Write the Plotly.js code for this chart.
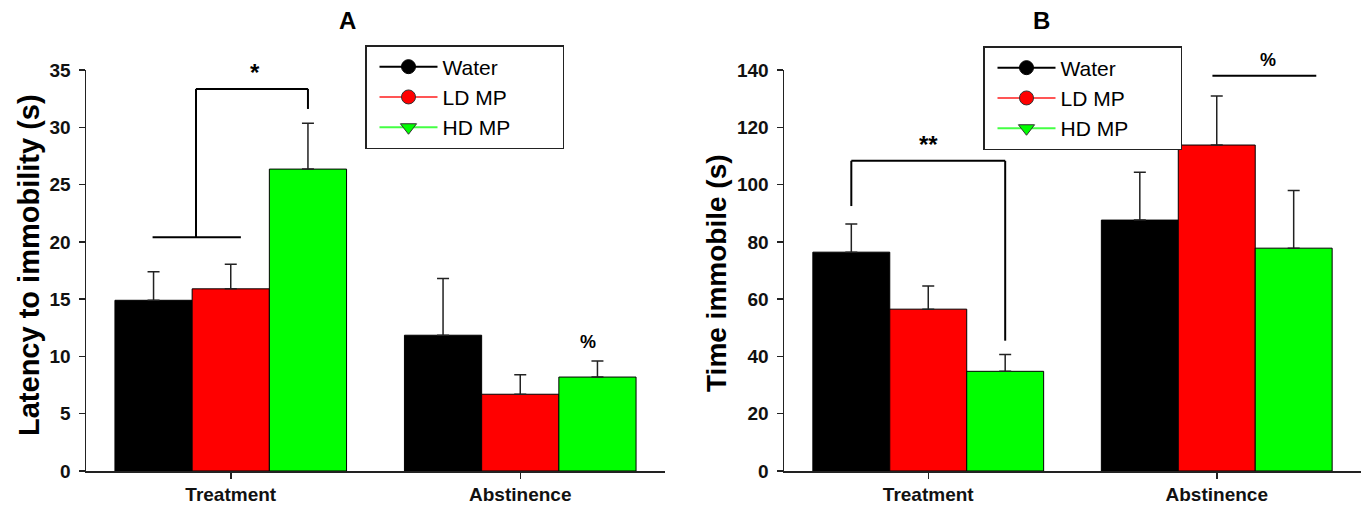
<!DOCTYPE html>
<html>
<head>
<meta charset="utf-8">
<script src="https://cdn.plot.ly/plotly-3.0.1.min.js"></script>
<style>html,body{margin:0;padding:0;background:#fff;}#chart{width:1361px;height:510px;}</style>
</head>
<body>
<div id="chart"></div>
<script>
// ---- data ----
const categories = ["Treatment", "Abstinence"];
const seriesNames = ["Water", "LD MP", "HD MP"];

// Panel A: Latency to immobility (s)
const latencyWater = [14.9, 11.85];
const latencyLD    = [15.9, 6.7];
const latencyHD    = [26.35, 8.2];
const latencyWaterErr = [2.5, 4.95];
const latencyLDErr    = [2.15, 1.7];
const latencyHDErr    = [4.0, 1.4];

// Panel B: Time immobile (s)
const immobileWater = [76.4, 87.6];
const immobileLD    = [56.5, 113.8];
const immobileHD    = [34.8, 77.8];
const immobileWaterErr = [9.8, 16.7];
const immobileLDErr    = [8.1, 17.1];
const immobileHDErr    = [5.9, 20.1];

const yTicksA = [0, 5, 10, 15, 20, 25, 30, 35];
const yTicksB = [0, 20, 40, 60, 80, 100, 120, 140];

// ---- styling ----
const barColors = ["#000000", "#ff0000", "#00ff00"];
const legendLineColors = ["#000000", "#ff5555", "#44ff44"];
const legendSymbols = ["circle", "circle", "triangle-down"];
const FONT = "Arial, 'Liberation Sans', sans-serif";
const NB = "\u00A0".repeat(8);

function bars(vals, errs, xa, ya) {
  return vals.map((v, i) => ({
    type: "bar",
    x: categories,
    y: v,
    name: seriesNames[i],
    xaxis: xa, yaxis: ya,
    showlegend: false,
    marker: {color: barColors[i], line: {color: "#000", width: 1}},
    error_y: {type: "data", symmetric: false, array: errs[i], arrayminus: [0, 0],
              color: "#222", thickness: 1.5, width: 6}
  }));
}
function legendTraces(xa, ya, leg) {
  return seriesNames.map((n, i) => ({
    type: "scatter", mode: "lines+markers",
    x: [null], y: [null], name: n + NB, xaxis: xa, yaxis: ya, legend: leg,
    line: {color: legendLineColors[i], width: 2},
    marker: {color: barColors[i], symbol: legendSymbols[i], size: 14,
             line: {color: i === 0 ? "#000" : "#333", width: 1}}
  }));
}

const data = [
  ...bars([latencyWater, latencyLD, latencyHD], [latencyWaterErr, latencyLDErr, latencyHDErr], "x", "y"),
  ...bars([immobileWater, immobileLD, immobileHD], [immobileWaterErr, immobileLDErr, immobileHDErr], "x2", "y2"),
  ...legendTraces("x", "y", "legend"),
  ...legendTraces("x2", "y2", "legend2")
];

const W = 1361, H = 510;
const px = v => v / W;
const py = v => 1 - v / H;

const tickFont = {family: FONT, size: 19, color: "#111", weight: "bold"};
const axCommon = {
  showgrid: false, zeroline: false, showline: true, linecolor: "#222", linewidth: 1.5,
  ticks: "outside", ticklen: 6, tickwidth: 1.5, tickcolor: "#222", tickfont: tickFont
};

const legendCommon = {
  bgcolor: "#fff", bordercolor: "#222", borderwidth: 1.5,
  font: {family: FONT, size: 21, color: "#000"},
  xanchor: "left", yanchor: "top", tracegroupgap: 0, itemwidth: 58, indentation: 8
};

const lineStyle = {color: "#000", width: 2};
function seg(xref, yref, x0, y0, x1, y1) {
  return {type: "line", xref: xref, yref: yref, x0: x0, y0: y0, x1: x1, y1: y1, line: lineStyle, layer: "above"};
}
function note(xref, yref, x, y, text, size, extra) {
  return Object.assign({xref: xref, yref: yref, x: x, y: y, text: text, showarrow: false,
    xanchor: "center", yanchor: "middle",
    font: {family: FONT, size: size, weight: "bold", color: "#000"}}, extra || {});
}

const layout = {
  width: W, height: H,
  margin: {l: 0, r: 0, t: 0, b: 0},
  paper_bgcolor: "#fff", plot_bgcolor: "#fff",
  bargap: 0.2, bargroupgap: 0, barmode: "group",
  xaxis: Object.assign({}, axCommon, {domain: [px(86), px(665)], range: [-0.5, 1.5], anchor: "y",
         type: "category", categoryarray: categories}),
  yaxis: Object.assign({}, axCommon, {domain: [py(471), py(70)], range: [0, 35], anchor: "x",
         tickvals: yTicksA, ticklabelstandoff: 4}),
  xaxis2: Object.assign({}, axCommon, {domain: [px(784), 1], range: [-0.5, 1.5], anchor: "y2",
         type: "category", categoryarray: categories}),
  yaxis2: Object.assign({}, axCommon, {domain: [py(471), py(70)], range: [0, 140], anchor: "x2",
         tickvals: yTicksB, ticklabelstandoff: 4}),
  legend: Object.assign({}, legendCommon, {x: px(365), y: py(45)}),
  legend2: Object.assign({}, legendCommon, {x: px(983), y: py(46)}),
  shapes: [
    // Panel A bracket
    seg("x", "y", -0.27, 20.4, 0.035, 20.4),
    seg("x", "y", -0.12, 20.4, -0.12, 33.35),
    seg("x", "y", -0.12, 33.35, 0.2667, 33.35),
    seg("x", "y", 0.2667, 33.35, 0.2667, 31.6),
    // Panel B bracket
    seg("x2", "y2", -0.2667, 92.5, -0.2667, 108.3),
    seg("x2", "y2", -0.2667, 108.3, 0.2667, 108.3),
    seg("x2", "y2", 0.2667, 108.3, 0.2667, 45.5),
    // Panel B % line
    seg("x2", "y2", 0.985, 138, 1.345, 138)
  ],
  annotations: [
    note("paper", "paper", px(347), py(21), "A", 24),
    note("paper", "paper", px(1041), py(21), "B", 24),
    note("paper", "paper", px(29), py(265), "Latency to immobility (s)", 29, {textangle: -90}),
    note("paper", "paper", px(716), py(273), "Time immobile (s)", 28, {textangle: -90}),
    note("x", "y", 0.085, 34.8, "*", 24),
    note("x", "y", 1.235, 11.3, "%", 18),
    note("x2", "y2", 0, 114, "**", 24),
    note("paper", "paper", px(1268), py(60), "%", 18)
  ]
};

Plotly.newPlot("chart", data, layout, {displayModeBar: false, staticPlot: true});
</script>
</body>
</html>
